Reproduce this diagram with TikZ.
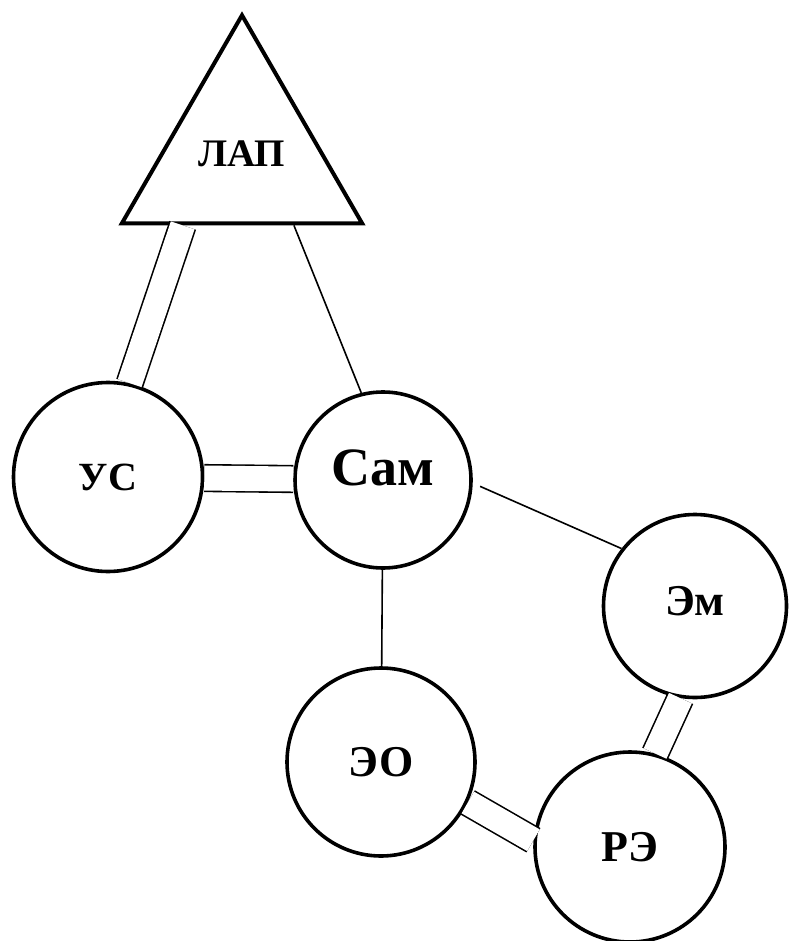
\documentclass[tikz,border=0pt]{standalone}
\usepackage{fontspec}
\setmainfont{Liberation Serif}
\usetikzlibrary{calc,shapes.geometric}
\tikzset{
ring/.style={
  circle,
  draw,
  line width=1.8pt,
  inner sep=0pt,
  minimum size=#1,
  font=\bfseries\fontsize{22}{24}\selectfont
  },
ring/.default=94pt,
tri/.style={
  regular polygon,
  regular polygon sides=3,
  draw,
  line width=2pt,
  inner sep=0pt,
  minimum size=138.7pt,
  font=\bfseries\fontsize{19.5}{22}\selectfont
  },
link/.style={line width=0.8pt},
dlink/.style={link, double, double distance=12.5pt}
}

\begin{document}
\begin{tikzpicture}[x=0.5pt,y=-0.5pt]
    \useasboundingbox (0,0) rectangle (789,941);
    \node [tri] (lap) at (242,154) {ЛАП};
    \node [ring=94.5pt, font=\bfseries\fontsize{20}{24}\selectfont] (us) at (108,477) {УС};
    \node [ring=88pt, font=\bfseries\fontsize{27}{30}\selectfont, text depth=12pt] (sam) at (383,480) {Сам};
    \node [ring=91.5pt, text depth=5pt] (em) at (695,606) {Эм};
    \node [ring=94pt] (eo) at (381,762) {ЭО};
    \node [ring=95pt] (re) at (630,847) {РЭ};
    % points on the base of the triangle
    \coordinate (lapL) at ($(lap.corner 2)!0.26!(lap.corner 3)$);
    \coordinate (lapR) at ($(lap.corner 2)!0.71!(lap.corner 3)$);
    \draw [dlink] (lapL) -- (us.77);
    \draw [link] (lapR) -- (sam.104);
    \draw [dlink] (us) -- (sam);
    \draw [link, shorten <=4pt] (sam.-2) -- (em.142);
    \draw [link] (sam) -- (eo);
    \draw [dlink] (em.-99) -- (re.75);
    \draw [dlink] (eo.-25) -- (re.176);
\end{tikzpicture}
\end{document}
